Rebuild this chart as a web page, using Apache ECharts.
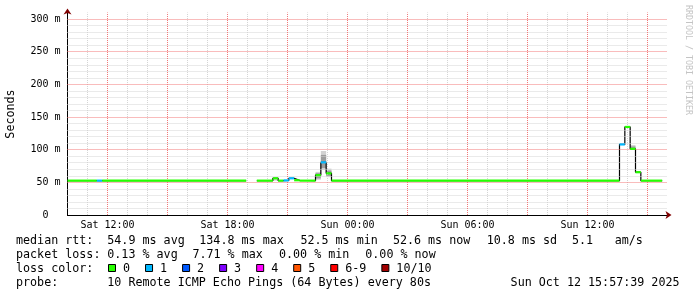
<!DOCTYPE html>
<html><head><meta charset="utf-8">
<script src="https://cdn.jsdelivr.net/npm/echarts@6/dist/echarts.min.js"></script>
<style>html,body{margin:0;padding:0;background:#fff}#c{width:697px;height:297px}</style>
</head><body><div id="c"></div>
<script>
// ---- data (time = hours since Sat 00:00) ----
const segStart  = [10.0, 11.467, 11.733, 19.467, 20.267, 20.533, 20.8, 21.067, 21.333, 21.6, 22.4, 22.667, 22.933, 23.2, 37.6, 37.867, 38.133, 38.4, 38.667];
const segEnd    = [11.467, 11.733, 18.933, 20.267, 20.533, 20.8, 21.067, 21.333, 21.6, 22.4, 22.667, 22.933, 23.2, 37.6, 37.867, 38.133, 38.4, 38.667, 39.733];
const segMedian = [52.6, 52.6, 52.6, 52.6, 56.2, 52.6, 53.0, 56.2, 53.2, 52.6, 61.0, 80.6, 63.8, 52.6, 108.0, 134.8, 101.3, 65.5, 52.6];
const segLoss   = [0, 1, 0, 0, 0, 0, 1, 1, 0, 0, 0, 1, 0, 0, 1, 0, 0, 0, 0];
const smokeOuterLo = [null, null, null, null, 52.6, null, null, null, 52.6, null, 54, 69, 58, null, null, null, 101.3, null, null];
const smokeOuterHi = [null, null, null, null, 57.8, null, null, null, 55.0, null, 66, 98, 71, null, null, null, 107, null, null];
const smokeInnerLo = [null, null, null, null, null, null, null, null, null, null, 56, 72, 60, null, null, null, 101.3, null, null];
const smokeInnerHi = [null, null, null, null, null, null, null, null, null, null, 64, 92, 68, null, null, null, 105, null, null];

const lossColors = ['#26ff00', '#00b8ff', '#0059ff', '#7e00ff', '#ff00ff', '#ff5500', '#ff0000', '#a10000'];
const lossLabels = ['0', '1', '2', '3', '4', '5', '6-9', '10/10'];

const xTickHours  = [12, 18, 24, 30, 36];
const xTickLabels = ['Sat 12:00', 'Sat 18:00', 'Sun 00:00', 'Sun 06:00', 'Sun 12:00'];
const majorXHours = [12, 15, 18, 21, 24, 27, 30, 33, 36, 39];
const minorXHours = [11, 13, 14, 16, 17, 19, 20, 22, 23, 25, 26, 28, 29, 31, 32, 34, 35, 37, 38];
const majorYValues = [50, 100, 150, 200, 250, 300];
const minorYValues = [10, 20, 30, 40, 60, 70, 80, 90, 110, 120, 130, 140, 160, 170, 180, 190, 210, 220, 230, 240, 260, 270, 280, 290];
const yTickValues = [0, 50, 100, 150, 200, 250, 300];
const yTickLabels = ['0  ', '50 m', '100 m', '150 m', '200 m', '250 m', '300 m'];

const yTitle = 'Seconds';
const watermark = 'RRDTOOL / TOBI OETIKER';
const rttLabel = 'median rtt:';
const rttStats = ['54.9 ms avg', '134.8 ms max', '52.5 ms min', '52.6 ms now', '10.8 ms sd', '5.1', 'am/s'];
const lossLabel = 'packet loss:';
const lossStats = ['0.13 % avg', '7.71 % max', '0.00 % min', '0.00 % now'];
const lossColorLabel = 'loss color:';
const probeLabel = 'probe:';
const probeText = '10 Remote ICMP Echo Pings (64 Bytes) every 80s';
const stamp = 'Sun Oct 12 15:57:39 2025';

// ---- layout / style ----
const MONO = '"DejaVu Sans Mono", monospace';
const LF = '11.7px ' + MONO;
const MINOR = '#d4d4d4';
const MAJOR = '#f27878';
const rttX = [107.3, 199.3, 300.4, 392.9, 486.7, 572, 614.7];
const lossX = [107.3, 192.4, 279, 365.3];
const lineY = [241, 255, 268.8, 282.8];

const segData = segStart.map((s, i) => [s, segEnd[i], segMedian[i], segLoss[i]]);
const medianLine = [];
segStart.forEach((s, i) => {
  if (i > 0 && s !== segEnd[i - 1]) medianLine.push(['-', '-']);
  medianLine.push([s, segMedian[i]], [segEnd[i], segMedian[i]]);
});
const outerData = [], innerData = [];
segStart.forEach((s, i) => {
  if (smokeOuterLo[i] != null) outerData.push([s, segEnd[i], smokeOuterLo[i], smokeOuterHi[i]]);
  if (smokeInnerLo[i] != null) innerData.push([s, segEnd[i], smokeInnerLo[i], smokeInnerHi[i]]);
});
function smokeSeries(data, color, z) {
  return {
    type: 'custom', z, silent: true, data,
    encode: { x: [0, 1], y: [2, 3] },
    renderItem(params, api) {
      const a = api.coord([api.value(0), api.value(3)]);
      const b = api.coord([api.value(1), api.value(2)]);
      return { type: 'rect', shape: { x: a[0], y: a[1], width: b[0] - a[0], height: b[1] - a[1] }, style: { fill: color } };
    }
  };
}
const gridLines = minorXHours.map(h => ({ xAxis: h, lineStyle: { color: MINOR, type: [1, 1], width: 1 } }))
  .concat(minorYValues.map(v => ({ yAxis: v, lineStyle: { color: MINOR, type: [1, 1], width: 1 } })))
  .concat(majorXHours.map(h => ({ xAxis: h, lineStyle: { color: MAJOR, type: [1, 1], width: 1 } })))
  .concat(majorYValues.map(v => ({ yAxis: v, lineStyle: { color: MAJOR, type: [1, 1], width: 1 } })));

const graphic = [];
function txt(text, x, y, opt) {
  graphic.push({ type: 'text', x, y, silent: true,
    style: Object.assign({ text, font: LF, fill: '#000', align: 'left', verticalAlign: 'middle' }, opt || {}) });
}
txt(rttLabel, 16, lineY[0]);
rttStats.forEach((t, i) => txt(t, rttX[i], lineY[0]));
txt(lossLabel, 16, lineY[1]);
lossStats.forEach((t, i) => txt(t, lossX[i], lineY[1]));
txt(lossColorLabel, 16, lineY[2]);
let bx = 108.5;
lossLabels.forEach((lab, i) => {
  graphic.push({ type: 'rect', silent: true, shape: { x: bx, y: 264.5, width: 7, height: 7 },
    style: { fill: lossColors[i], stroke: '#000', lineWidth: 1 } });
  txt(lab, bx + 14.5, lineY[2]);
  bx += 14.5 + 7.04 * lab.length + 15.5;
});
txt(probeLabel, 16, lineY[3]);
txt(probeText, 107.3, lineY[3]);
txt(stamp, 679.5, lineY[3], { align: 'right' });
graphic.push({ type: 'text', x: 11, y: 114, rotation: Math.PI / 2, silent: true,
  style: { text: yTitle, font: LF, fill: '#000', align: 'center', verticalAlign: 'middle' } });
graphic.push({ type: 'text', x: 688, y: 60, rotation: -Math.PI / 2, silent: true,
  style: { text: watermark, font: '8.3px ' + MONO, fill: '#c4c4c4', align: 'center', verticalAlign: 'middle' } });

const chart = echarts.init(document.getElementById('c'), null, { renderer: 'canvas' });
chart.setOption({
  animation: false,
  backgroundColor: '#ffffff',
  grid: { left: 67.5, top: 12.5, width: 600, height: 202.5 },
  xAxis: [
    { type: 'value', min: 10, max: 40, interval: 1,
      axisLine: { show: true, lineStyle: { color: '#800000', width: 1 }, symbol: ['none', 'arrow'], symbolSize: [6, 6], symbolOffset: [0, 4] },
      axisTick: { show: false }, axisLabel: { show: false }, splitLine: { show: false } },
    { type: 'value', min: 10, max: 40, interval: 1, position: 'bottom',
      axisLine: { show: true, lineStyle: { color: '#000', width: 1 } },
      axisTick: { show: false }, splitLine: { show: false },
      axisLabel: { show: true, margin: 5, color: '#000', fontSize: 10, fontFamily: MONO,
        formatter: v => { const k = xTickHours.indexOf(Math.round(v * 1000) / 1000); return k >= 0 ? xTickLabels[k] : ''; } } }
  ],
  yAxis: [
    { type: 'value', min: 0, max: 310, interval: 10,
      axisLine: { show: true, lineStyle: { color: '#800000', width: 1 }, symbol: ['none', 'arrow'], symbolSize: [6, 6], symbolOffset: [0, 4] },
      axisTick: { show: false }, axisLabel: { show: false }, splitLine: { show: false } },
    { type: 'value', min: 0, max: 310, interval: 50, position: 'left',
      axisLine: { show: true, lineStyle: { color: '#000', width: 1 } },
      axisTick: { show: false }, splitLine: { show: false },
      axisLabel: { show: true, margin: 7, color: '#000', fontSize: 10, fontFamily: MONO,
        formatter: v => { const k = yTickValues.indexOf(v); return k >= 0 ? yTickLabels[k] : ''; } } }
  ],
  series: [
    { type: 'line', z: 1, data: [], silent: true,
      markLine: { silent: true, symbol: ['none', 'none'], label: { show: false }, animation: false, data: gridLines } },
    smokeSeries(outerData, '#d2d2d2', 2),
    smokeSeries(innerData, '#9c9c9c', 3),
    { type: 'line', z: 4, data: medianLine, showSymbol: false, silent: true, connectNulls: false,
      lineStyle: { color: '#000', width: 1.2 } },
    { type: 'custom', z: 5, silent: true, data: segData, encode: { x: [0, 1], y: 2 },
      renderItem(params, api) {
        const a = api.coord([api.value(0), api.value(2)]);
        const b = api.coord([api.value(1), api.value(2)]);
        return { type: 'line', shape: { x1: a[0], y1: a[1], x2: b[0], y2: b[1] },
          style: { stroke: lossColors[api.value(3)], lineWidth: 2.2 } };
      } }
  ],
  graphic
});
</script></body></html>
